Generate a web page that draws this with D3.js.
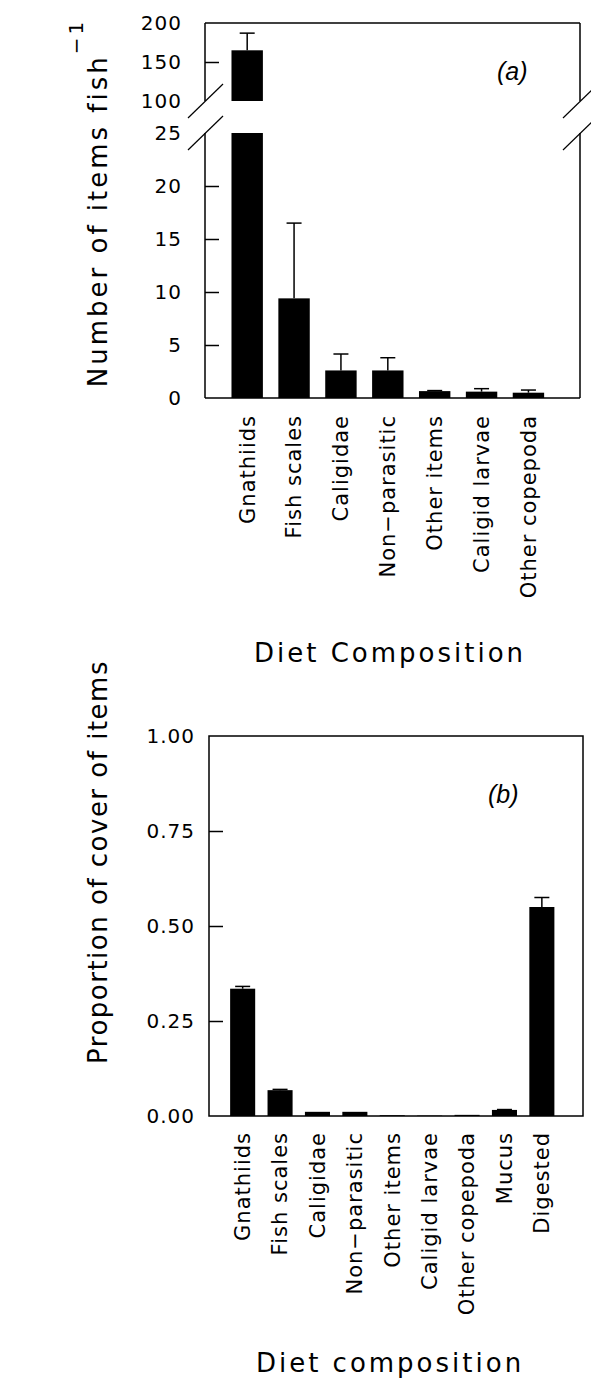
<!DOCTYPE html>
<html>
<head>
<meta charset="utf-8">
<script src="https://cdn.jsdelivr.net/npm/d3@7"></script>
<style>
  body { margin: 0; background: #fff; }
  text { font-family: "DejaVu Sans", sans-serif; fill: #000; }
</style>
</head>
<body>
<svg id="chart"></svg>
<script>
// panel (a): number of items per fish
var categoriesA = ["Gnathiids", "Fish scales", "Caligidae", "Non\u2212parasitic", "Other items", "Caligid larvae", "Other copepoda"];
var meansA = [165, 9.4, 2.6, 2.6, 0.65, 0.6, 0.5];
var errorsA = [22, 7.1, 1.55, 1.2, 0.05, 0.28, 0.25];
var ticksLowA = [0, 5, 10, 15, 20, 25];
var ticksHighA = [100, 150, 200];

// panel (b): proportion of cover
var categoriesB = ["Gnathiids", "Fish scales", "Caligidae", "Non\u2212parasitic", "Other items", "Caligid larvae", "Other copepoda", "Mucus", "Digested"];
var meansB = [0.335, 0.068, 0.011, 0.011, 0.002, 0.001, 0.003, 0.016, 0.55];
var errorsB = [0.006, 0.002, 0, 0, 0, 0, 0, 0.001, 0.025];
var ticksB = [0, 0.25, 0.5, 0.75, 1];

var width = 591, height = 1382;
var svg = d3.select("#chart").attr("width", width).attr("height", height);

var lw = 1.5, capW = 15;

// ---------- panel (a) ----------
var a = {left: 205, right: 580, top: 23, bottom: 398, breakHi: 101, breakLo: 133};

var xA = d3.scalePoint().domain(categoriesA).range([a.left, a.right]).padding(1).align(0.45);
var barWA = xA.step() * 0.67;
var yLow = d3.scaleLinear().domain([0, 25]).range([a.bottom, a.breakLo]);
var yHigh = d3.scaleLinear().domain([100, 200]).range([a.breakHi, a.top]);

var gA = svg.append("g");

// bars, the first one is split across the break
var barsA = categoriesA.map(function(c, i) { return {cat: c, v: meansA[i], e: errorsA[i]}; });
gA.selectAll("rect.low").data(barsA).enter().append("rect")
    .attr("x", function(d) { return xA(d.cat) - barWA / 2; })
    .attr("y", function(d) { return yLow(Math.min(d.v, 25)); })
    .attr("width", barWA)
    .attr("height", function(d) { return yLow(0) - yLow(Math.min(d.v, 25)); })
    .attr("fill", "#000");
gA.selectAll("rect.high").data(barsA.filter(function(d) { return d.v > 100; })).enter().append("rect")
    .attr("x", function(d) { return xA(d.cat) - barWA / 2; })
    .attr("y", function(d) { return yHigh(d.v); })
    .attr("width", barWA)
    .attr("height", function(d) { return yHigh(100) - yHigh(d.v); })
    .attr("fill", "#000");

function yA(v) { return v > 25 ? yHigh(v) : yLow(v); }

// error bars (upper only)
var errA = gA.selectAll("g.err").data(barsA).enter().append("g");
errA.append("line")
    .attr("x1", function(d) { return xA(d.cat); })
    .attr("x2", function(d) { return xA(d.cat); })
    .attr("y1", function(d) { return yA(d.v); })
    .attr("y2", function(d) { return yA(d.v + d.e); })
    .attr("stroke", "#000").attr("stroke-width", lw);
errA.append("line")
    .attr("x1", function(d) { return xA(d.cat) - capW / 2; })
    .attr("x2", function(d) { return xA(d.cat) + capW / 2; })
    .attr("y1", function(d) { return yA(d.v + d.e); })
    .attr("y2", function(d) { return yA(d.v + d.e); })
    .attr("stroke", "#000").attr("stroke-width", lw);

// frame with the broken sides
var frameA = [
  [a.left, a.top, a.right, a.top],
  [a.left, a.bottom, a.right, a.bottom],
  [a.left, a.top, a.left, a.breakHi],
  [a.left, a.breakLo, a.left, a.bottom],
  [a.right, a.top, a.right, a.breakHi],
  [a.right, a.breakLo, a.right, a.bottom]
];
gA.selectAll("line.frame").data(frameA).enter().append("line")
    .attr("x1", function(d) { return d[0]; }).attr("y1", function(d) { return d[1]; })
    .attr("x2", function(d) { return d[2]; }).attr("y2", function(d) { return d[3]; })
    .attr("stroke", "#000").attr("stroke-width", lw);

// break slashes
[a.left, a.right].forEach(function(x) {
  [a.breakHi, a.breakLo].forEach(function(y) {
    gA.append("line")
        .attr("x1", x - 17).attr("y1", y + 17)
        .attr("x2", x + 18).attr("y2", y - 17)
        .attr("stroke", "#000").attr("stroke-width", 1.2);
  });
});

// y axes (ticks pointing inward)
function styleAxis(g, keep) {
  g.select(".domain").remove();
  g.selectAll(".tick line")
      .attr("stroke-width", lw)
      .attr("display", function(d) { return keep(d) ? null : "none"; });
  g.selectAll(".tick text")
      .attr("font-family", "DejaVu Sans")
      .attr("font-size", 20)
      .style("letter-spacing", "1px");
}
var axLow = gA.append("g").attr("transform", "translate(" + a.left + ",0)")
    .call(d3.axisLeft(yLow).tickValues(ticksLowA).tickSize(-14).tickPadding(23));
styleAxis(axLow, function(d) { return d > 0 && d < 25; });
var axHigh = gA.append("g").attr("transform", "translate(" + a.left + ",0)")
    .call(d3.axisLeft(yHigh).tickValues(ticksHighA).tickSize(-14).tickPadding(23));
styleAxis(axHigh, function(d) { return d == 150; });

// category labels
gA.selectAll("text.cat").data(categoriesA).enter().append("text")
    .attr("transform", function(d) { return "translate(" + xA(d) + "," + (a.bottom + 17) + ") rotate(-90)"; })
    .attr("text-anchor", "end")
    .attr("dy", "0.35em")
    .attr("font-size", 21)
    .style("letter-spacing", "1px")
    .text(function(d) { return d; });

// titles
var titleA = gA.append("text")
    .attr("transform", "translate(107,203) rotate(-90)")
    .attr("text-anchor", "middle")
    .attr("font-size", 26)
    .style("letter-spacing", "3px");
titleA.append("tspan").text("Number of items fish");
titleA.append("tspan").attr("dy", -24).attr("font-size", 20).text("\u22121");

gA.append("text")
    .attr("x", 390).attr("y", 662)
    .attr("text-anchor", "middle")
    .attr("font-size", 26)
    .style("letter-spacing", "3px")
    .text("Diet Composition");

gA.append("text")
    .attr("x", 497).attr("y", 80)
    .attr("font-style", "italic")
    .attr("font-size", 25)
    .style("font-family", "Liberation Sans")
    .text("(a)");

// ---------- panel (b) ----------
var b = {left: 209, right: 583, top: 736, bottom: 1116};

var xB = d3.scalePoint().domain(categoriesB).range([b.left, b.right]).padding(1).align(0.45);
var barWB = xB.step() * 0.67;
var yB = d3.scaleLinear().domain([0, 1]).range([b.bottom, b.top]);

var gB = svg.append("g");
var barsB = categoriesB.map(function(c, i) { return {cat: c, v: meansB[i], e: errorsB[i]}; });

gB.selectAll("rect").data(barsB).enter().append("rect")
    .attr("x", function(d) { return xB(d.cat) - barWB / 2; })
    .attr("y", function(d) { return yB(d.v); })
    .attr("width", barWB)
    .attr("height", function(d) { return yB(0) - yB(d.v); })
    .attr("fill", "#000");

var errB = gB.selectAll("g.err").data(barsB.filter(function(d) { return d.e > 0; })).enter().append("g");
errB.append("line")
    .attr("x1", function(d) { return xB(d.cat); })
    .attr("x2", function(d) { return xB(d.cat); })
    .attr("y1", function(d) { return yB(d.v); })
    .attr("y2", function(d) { return yB(d.v + d.e); })
    .attr("stroke", "#000").attr("stroke-width", lw);
errB.append("line")
    .attr("x1", function(d) { return xB(d.cat) - capW / 2; })
    .attr("x2", function(d) { return xB(d.cat) + capW / 2; })
    .attr("y1", function(d) { return yB(d.v + d.e); })
    .attr("y2", function(d) { return yB(d.v + d.e); })
    .attr("stroke", "#000").attr("stroke-width", lw);

gB.append("rect")
    .attr("x", b.left).attr("y", b.top)
    .attr("width", b.right - b.left).attr("height", b.bottom - b.top)
    .attr("fill", "none").attr("stroke", "#000").attr("stroke-width", lw);

var axB = gB.append("g").attr("transform", "translate(" + b.left + ",0)")
    .call(d3.axisLeft(yB).tickValues(ticksB).tickFormat(d3.format(".2f")).tickSize(-14).tickPadding(14));
styleAxis(axB, function(d) { return d > 0 && d < 1; });

gB.selectAll("text.cat").data(categoriesB).enter().append("text")
    .attr("transform", function(d) { return "translate(" + xB(d) + "," + (b.bottom + 16) + ") rotate(-90)"; })
    .attr("text-anchor", "end")
    .attr("dy", "0.35em")
    .attr("font-size", 21)
    .style("letter-spacing", "1px")
    .text(function(d) { return d; });

gB.append("text")
    .attr("transform", "translate(107,862) rotate(-90)")
    .attr("text-anchor", "middle")
    .attr("font-size", 26)
    .style("letter-spacing", "1.5px")
    .text("Proportion of cover of items");

gB.append("text")
    .attr("x", 390).attr("y", 1372)
    .attr("text-anchor", "middle")
    .attr("font-size", 26)
    .style("letter-spacing", "3px")
    .text("Diet composition");

gB.append("text")
    .attr("x", 488).attr("y", 803)
    .attr("font-style", "italic")
    .attr("font-size", 25)
    .style("font-family", "Liberation Sans")
    .text("(b)");
</script>
</body>
</html>
